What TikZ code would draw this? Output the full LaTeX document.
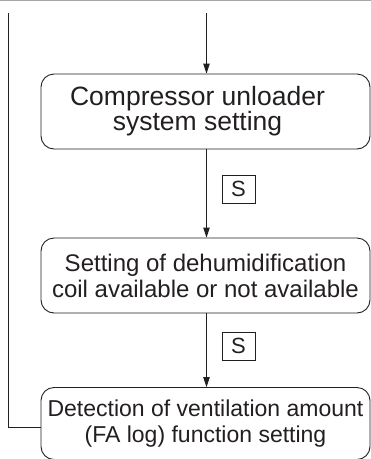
\documentclass[tikz,border=0pt]{standalone}
\usepackage{fontspec}
\setmainfont{Liberation Sans}
\usetikzlibrary{arrows.meta}
\definecolor{ink}{HTML}{231F20}
\begin{document}
\begin{tikzpicture}[x=1pt,y=1pt,
  line width=0.9pt, draw=ink,
  stepbox/.style={draw=ink, rounded corners=13pt, minimum width=329pt, minimum height=75pt,
    inner sep=0pt, align=center, text=ink},
  sbox/.style={draw=ink, minimum width=33pt, minimum height=28pt, inner sep=0pt,
    text=ink, font=\fontsize{22}{24}\selectfont},
  arr/.style={-{Triangle[length=10pt,width=6.5pt]}, draw=ink}]
\useasboundingbox (0,0) rectangle (371,-459);
\draw[line width=1.4pt, draw=black!35] (0,-0.7) -- (371,-0.7);
\node[stepbox, font=\fontsize{26.5}{25}\selectfont] (b1) at (205.5,-111.5) {Compressor unloader\hspace*{16pt}\\system setting\hspace*{16pt}};
\node[stepbox, font=\fontsize{24}{26}\selectfont] (b2) at (205.5,-275.5) {Setting of dehumidification\\coil available or not available};
\node[stepbox, minimum height=72pt, font=\fontsize{23}{26}\selectfont] (b3) at (205.5,-423.5) {Detection of ventilation amount\\(FA log) function setting};
\coordinate (t0) at (206.5,-13);
\coordinate (l0) at (8.5,-13);
\node[sbox] (s1) at (238.5,-189) {S};
\node[sbox] (s2) at (238.5,-346) {S};
\draw[arr] (t0) -- (t0 |- b1.north);
\draw[arr] (t0 |- b1.south) -- (t0 |- b2.north);
\draw[arr] (t0 |- b2.south) -- (t0 |- b3.north);
\draw (l0) |- ([yshift=-4pt]b3.west);
\end{tikzpicture}
\end{document}
